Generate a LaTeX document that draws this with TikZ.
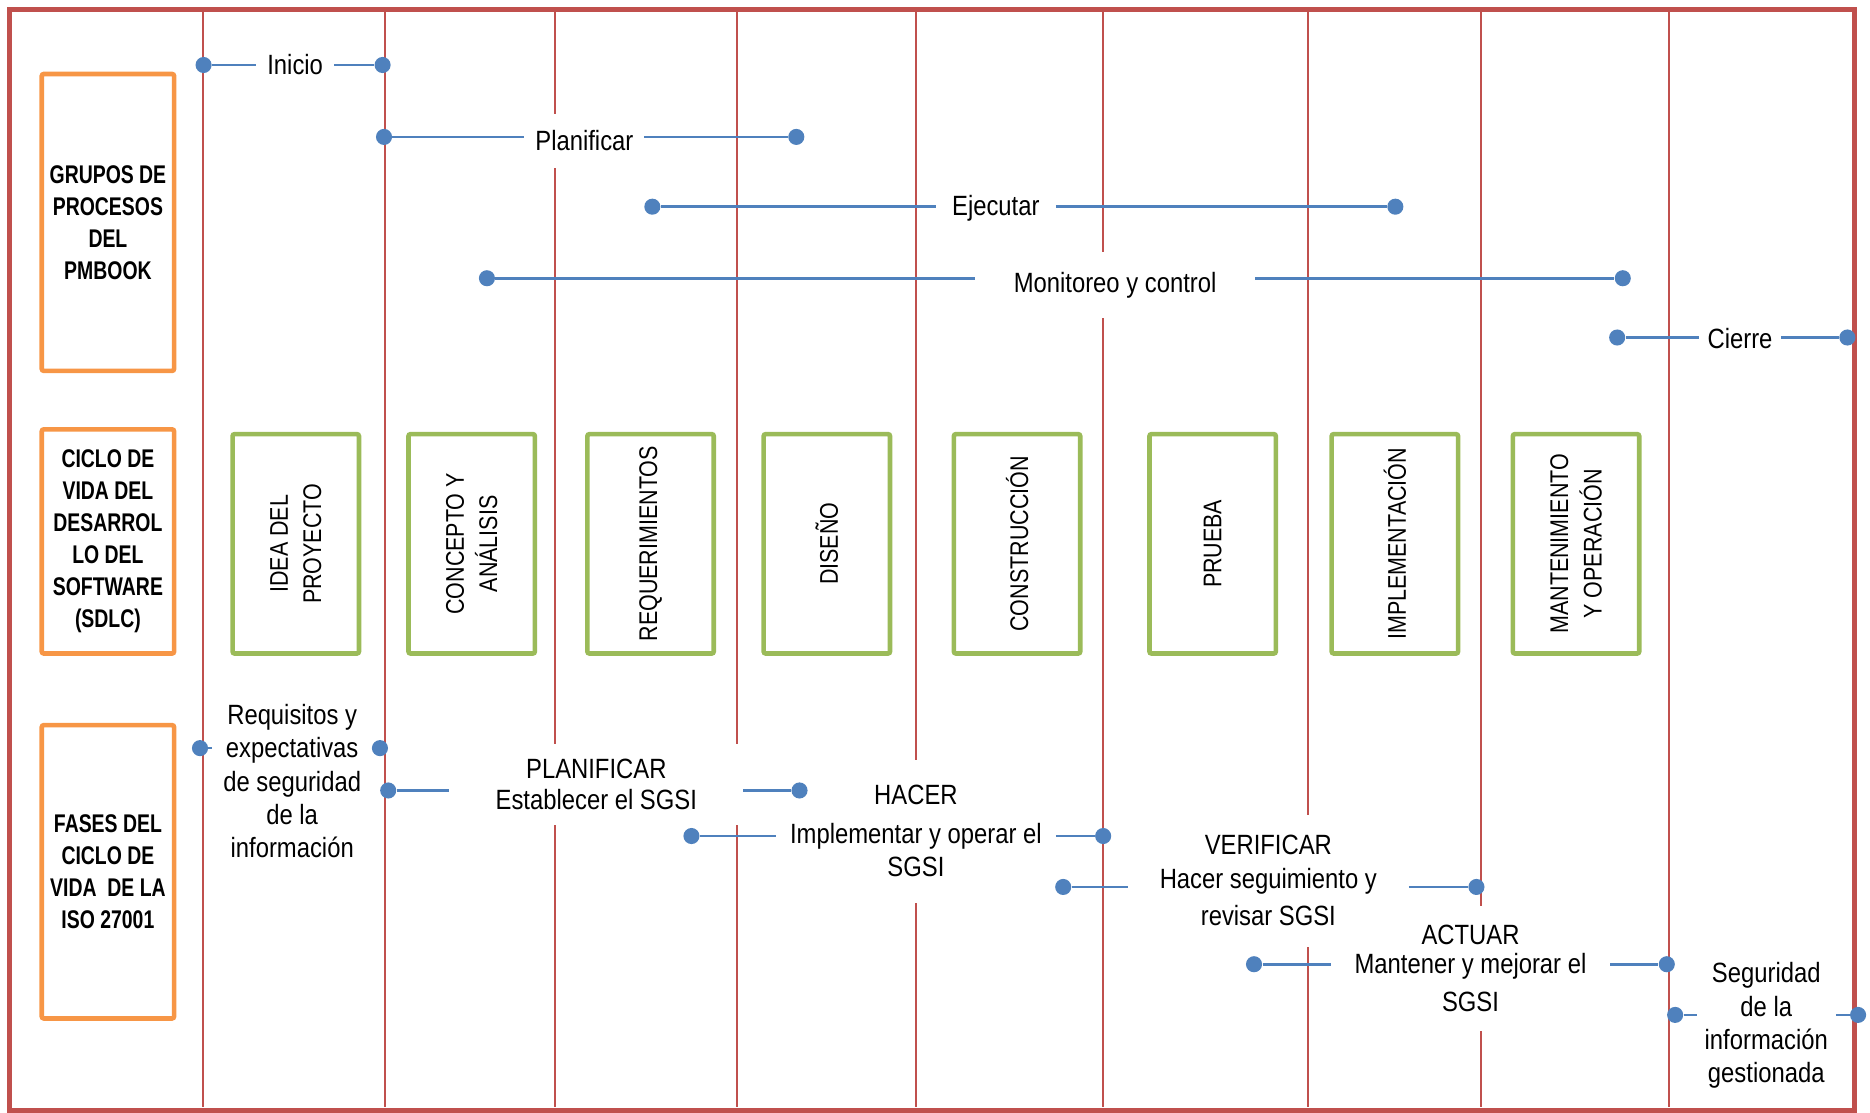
\documentclass[tikz,border=0pt]{standalone}
\usepackage{fontspec}
\setmainfont{Liberation Sans}
\newfontfamily\narrowfont[FakeStretch=0.855]{Liberation Sans}
\newfontfamily\phasefont[FakeStretch=0.84]{Liberation Sans}
\newfontfamily\groupfont[FakeStretch=0.76]{Liberation Sans}
\definecolor{framered}{HTML}{C0504D}
\definecolor{grouporange}{HTML}{F79646}
\definecolor{phasegreen}{HTML}{9BBB59}
\definecolor{dotblue}{HTML}{4F81BD}

\begin{document}
\begin{tikzpicture}[x=0.02cm, y=-0.02cm,
    sep/.style={draw=framered, line width=0.8pt},
    group/.style={draw=grouporange, line width=2.2pt, rounded corners=1pt, fill=white,
        minimum width=2.22cm, inner sep=0pt, align=center,
        font=\groupfont\bfseries\fontsize{12.2}{15.3}\selectfont},
    phase/.style={draw=phasegreen, line width=2.2pt, rounded corners=1pt, fill=white,
        rotate=90, minimum width=3.68cm, minimum height=2.12cm, inner sep=0pt, align=center,
        font=\phasefont\fontsize{12.2}{15.9}\selectfont},
    lbl/.style={fill=white, inner sep=0pt, align=center,
        font=\narrowfont\fontsize{13.3}{15.9}\selectfont},
    dot/.style={circle, fill=dotblue, inner sep=0pt, minimum size=0.27cm},
    conn/.style={draw=dotblue, line width=1.3pt}]
    \useasboundingbox (0,0) rectangle (1568,933);

    % marco y columnas
    \draw[framered, line width=2.5pt] (8,8) rectangle (1555.3,931.5);
    \foreach \x in {170,322.7,465.6,618,768,925,1097,1242,1399.5}
        \draw[sep] (\x,8) -- (\x,928);

    % filas
    \node[group, minimum height=4.98cm] (pmbok) at (90.5,186.5) {GRUPOS DE\\PROCESOS\\DEL\\PMBOOK};
    \node[group, minimum height=3.76cm] (sdlc) at (90.5,454) {CICLO DE\\VIDA DEL\\DESARROL\\LO DEL\\SOFTWARE\\(SDLC)};
    \node[group, minimum height=4.92cm] (iso) at (90.5,731) {FASES DEL\\CICLO DE\\VIDA\ \ DE LA\\ISO 27001};

    % fases SDLC
    \node[phase] (idea) at (248,456) {IDEA DEL\\PROYECTO};
    \node[phase] (conc) at (395.5,456) {CONCEPTO Y\\ANÁLISIS};
    \node[phase] (reqm) at (545.5,456) {REQUERIMIENTOS};
    \node[phase] (dise) at (693.3,456) {DISEÑO};
    \node[phase] (cons) at (852.8,456) {CONSTRUCCIÓN};
    \node[phase] (prue) at (1016.8,456) {PRUEBA};
    \node[phase] (impl) at (1169.6,456) {IMPLEMENTACIÓN};
    \node[phase] (mant) at (1321.5,456) {MANTENIMIENTO\\Y OPERACIÓN};

    % grupos de procesos
    \node[lbl, minimum width=1.3cm] (ini) at (247.5,54) {Inicio};
    \node[lbl, minimum width=2cm, minimum height=0.9cm] (pla) at (490,118) {Planificar};
    \node[lbl, minimum width=2cm] (eje) at (835,175) {Ejecutar};
    \node[lbl, minimum width=4.68cm, minimum height=1.12cm] (mon) at (935,239) {Monitoreo y control};
    \node[lbl, minimum width=1.36cm] (cie) at (1459,284) {Cierre};

    % fases ISO 27001
    \node[lbl, minimum width=2.68cm] (req) at (245,655) {Requisitos y\\expectativas\\de seguridad\\de la\\información};
    \node[lbl, minimum width=4.92cm, minimum height=1.36cm] (plan) at (500,658) {PLANIFICAR\\[-1pt]Establecer el SGSI};
    \node[lbl, minimum width=4.68cm, minimum height=2.4cm] (hac) at (768,697) {HACER\\[2.5pt]Implementar y operar el\\SGSI};
    \node[lbl, minimum width=4.68cm, minimum height=2.1cm] (act) at (1233,812) {ACTUAR\\[-2pt]Mantener y mejorar el\\[2pt]SGSI};
    \node[lbl, minimum width=4.7cm, minimum height=2.22cm] (ver) at (1063.5,738.5) {VERIFICAR\\Hacer seguimiento y\\[2pt]revisar SGSI};
    \node[lbl, minimum width=2.32cm] (seg) at (1481,860) {Seguridad\\de la\\información\\gestionada};

    % puntos
    \node[dot] (ini1) at (170.7,54.5) {};
    \node[dot] (ini2) at (320.8,54.5) {};
    \node[dot] (pla1) at (322,114.8) {};
    \node[dot] (pla2) at (667.7,114.8) {};
    \node[dot] (eje1) at (547,173.3) {};
    \node[dot] (eje2) at (1170,173.3) {};
    \node[dot] (mon1) at (408.3,233.3) {};
    \node[dot] (mon2) at (1360.7,233.3) {};
    \node[dot] (cie1) at (1356,283) {};
    \node[dot] (cie2) at (1549,283) {};
    \node[dot] (req1) at (167.7,627.3) {};
    \node[dot] (req2) at (318.6,627.3) {};
    \node[dot] (plan1) at (325.5,662.8) {};
    \node[dot] (plan2) at (670.4,662.8) {};
    \node[dot] (hac1) at (579.8,701) {};
    \node[dot] (hac2) at (925,701) {};
    \node[dot] (ver1) at (891.5,743.7) {};
    \node[dot] (ver2) at (1238,743.7) {};
    \node[dot] (act1) at (1051.5,808.5) {};
    \node[dot] (act2) at (1397.6,808.5) {};
    \node[dot] (seg1) at (1404.6,851) {};
    \node[dot] (seg2) at (1558,851) {};

    % conectores
    \foreach \n in {ini,pla,eje,mon,cie,req,plan,hac,ver,act,seg} {
        \draw[conn] (\n1) -- (\n1 -| \n.west);
        \draw[conn] (\n2 -| \n.east) -- (\n2);
    }
\end{tikzpicture}
\end{document}
